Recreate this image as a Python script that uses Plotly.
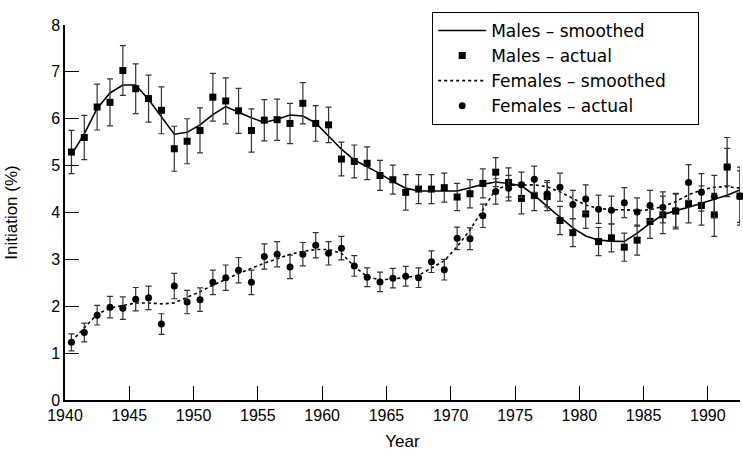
import plotly.graph_objects as go

# mid-year positions
YEARS = [1940.5, 1941.5, 1942.5, 1943.5, 1944.5, 1945.5, 1946.5, 1947.5, 1948.5, 1949.5,
         1950.5, 1951.5, 1952.5, 1953.5, 1954.5, 1955.5, 1956.5, 1957.5, 1958.5, 1959.5,
         1960.5, 1961.5, 1962.5, 1963.5, 1964.5, 1965.5, 1966.5, 1967.5, 1968.5, 1969.5,
         1970.5, 1971.5, 1972.5, 1973.5, 1974.5, 1975.5, 1976.5, 1977.5, 1978.5, 1979.5,
         1980.5, 1981.5, 1982.5, 1983.5, 1984.5, 1985.5, 1986.5, 1987.5, 1988.5, 1989.5,
         1990.5, 1991.5, 1992.5]

males_actual = [5.29, 5.60, 6.25, 6.35, 7.03, 6.64, 6.43, 6.18, 5.36, 5.52,
                5.75, 6.46, 6.38, 6.17, 5.75, 5.97, 5.98, 5.90, 6.33, 5.90,
                5.87, 5.14, 5.09, 5.05, 4.79, 4.70, 4.43, 4.50, 4.50, 4.53,
                4.33, 4.40, 4.62, 4.86, 4.64, 4.30, 4.36, 4.34, 3.83, 3.57,
                3.97, 3.38, 3.46, 3.26, 3.41, 3.81, 3.95, 4.03, 4.19, 4.15,
                3.95, 4.97, 4.35]
males_err = [0.46, 0.47, 0.49, 0.50, 0.53, 0.53, 0.50, 0.50, 0.48, 0.48,
             0.48, 0.51, 0.49, 0.48, 0.46, 0.44, 0.44, 0.43, 0.44, 0.38,
             0.38, 0.36, 0.35, 0.35, 0.32, 0.31, 0.38, 0.31, 0.31, 0.31,
             0.29, 0.30, 0.31, 0.31, 0.31, 0.33, 0.32, 0.30, 0.30, 0.30,
             0.31, 0.30, 0.30, 0.30, 0.32, 0.36, 0.40, 0.38, 0.41, 0.42,
             0.46, 0.63, 0.62]
males_smoothed = [5.23, 5.68, 6.22, 6.55, 6.72, 6.72, 6.41, 6.05, 5.67, 5.71,
                  5.87, 6.09, 6.26, 6.14, 6.02, 5.92, 5.99, 6.08, 6.06, 5.91,
                  5.62, 5.35, 5.12, 4.98, 4.83, 4.66, 4.52, 4.46, 4.46, 4.46,
                  4.46, 4.53, 4.60, 4.65, 4.62, 4.57, 4.37, 4.13, 3.90, 3.67,
                  3.50, 3.41, 3.39, 3.38, 3.56, 3.77, 3.95, 4.04, 4.11, 4.20,
                  4.29, 4.37, 4.48]

females_actual = [1.23, 1.44, 1.81, 1.98, 1.96, 2.15, 2.18, 1.62, 2.43, 2.09,
                  2.14, 2.51, 2.61, 2.77, 2.51, 3.06, 3.11, 2.84, 3.11, 3.30,
                  3.13, 3.24, 2.86, 2.62, 2.52, 2.60, 2.64, 2.61, 2.95, 2.78,
                  3.45, 3.44, 3.93, 4.45, 4.52, 4.59, 4.71, 4.40, 4.54, 4.17,
                  4.29, 4.07, 4.05, 4.21, 4.01, 4.15, 4.11, 4.04, 4.64, 4.43,
                  4.34, 4.97, 4.34]
females_err = [0.18, 0.20, 0.21, 0.23, 0.24, 0.25, 0.25, 0.22, 0.27, 0.25,
               0.25, 0.26, 0.27, 0.27, 0.26, 0.27, 0.27, 0.25, 0.25, 0.27,
               0.25, 0.25, 0.22, 0.20, 0.21, 0.21, 0.21, 0.21, 0.23, 0.22,
               0.24, 0.23, 0.25, 0.27, 0.27, 0.27, 0.28, 0.28, 0.30, 0.30,
               0.30, 0.30, 0.30, 0.32, 0.30, 0.32, 0.33, 0.35, 0.38, 0.40,
               0.45, 0.40, 0.55]
females_smoothed = [1.25, 1.55, 1.83, 1.96, 2.02, 2.07, 2.07, 2.05, 2.07, 2.19,
                    2.31, 2.45, 2.58, 2.70, 2.81, 2.92, 3.01, 3.11, 3.17, 3.21,
                    3.21, 3.13, 2.85, 2.63, 2.56, 2.59, 2.61, 2.66, 2.81, 2.97,
                    3.27, 3.63, 4.06, 4.49, 4.58, 4.59, 4.59, 4.55, 4.44, 4.30,
                    4.16, 4.09, 4.06, 4.06, 4.04, 4.06, 4.13, 4.23, 4.38, 4.48,
                    4.54, 4.55, 4.52]

FONT = "Liberation Sans, Arial, sans-serif"
LEGEND_FONT = "DejaVu Sans, Liberation Sans, sans-serif"
BAR = dict(type="data", thickness=1.2, width=3, color="#333")
PAD = "\u00a0" * 5  # widens the legend box a little, like the original

fig = go.Figure()

fig.add_trace(go.Scatter(
    x=YEARS, y=males_smoothed, mode="lines", name="Males \u2013 smoothed",
    line=dict(color="black", width=1.6), cliponaxis=False
))
fig.add_trace(go.Scatter(
    x=YEARS, y=males_actual, mode="markers", name="Males \u2013 actual",
    marker=dict(symbol="square", size=7, color="black"),
    error_y=dict(array=males_err, **BAR), cliponaxis=False
))
fig.add_trace(go.Scatter(
    x=YEARS, y=females_smoothed, mode="lines", name="Females \u2013 smoothed" + PAD,
    line=dict(color="black", width=1.6, dash="dot"), cliponaxis=False
))
fig.add_trace(go.Scatter(
    x=YEARS, y=females_actual, mode="markers", name="Females \u2013 actual",
    marker=dict(symbol="circle", size=7, color="black"),
    error_y=dict(array=females_err, **BAR), cliponaxis=False
))

axis_common = dict(
    showline=True, linecolor="black", linewidth=1.5,
    ticks="inside", ticklen=14, tickwidth=1, tickcolor="black",
    showgrid=False, zeroline=False, mirror=False,
    tickfont=dict(family=FONT, size=16, color="black"),
    title_font=dict(family=FONT, size=17, color="black"),
)

fig.update_xaxes(range=[1940, 1992.5], tick0=1940, dtick=5,
                 title_text="Year", title_standoff=12, **axis_common)
fig.update_yaxes(range=[0, 8], tick0=0, dtick=1,
                 title_text="Initiation (%)", title_standoff=29, **axis_common)

fig.update_layout(
    width=743, height=457,
    margin=dict(l=65, r=3, t=25, b=57, autoexpand=False),
    plot_bgcolor="white", paper_bgcolor="white",
    font=dict(family=FONT, color="black"),
    legend=dict(
        x=0.544, y=1.035, xanchor="left", yanchor="top",
        bordercolor="black", borderwidth=1, bgcolor="white",
        font=dict(family=LEGEND_FONT, size=17, color="black"),
        itemwidth=48, tracegroupgap=0,
    ),
    showlegend=True,
)

# page body has an 8px default margin; drop it so the figure sits at 0,0
fig.write_html("out.html", config={"displayModeBar": False},
               post_script="document.body.style.margin='0';")
